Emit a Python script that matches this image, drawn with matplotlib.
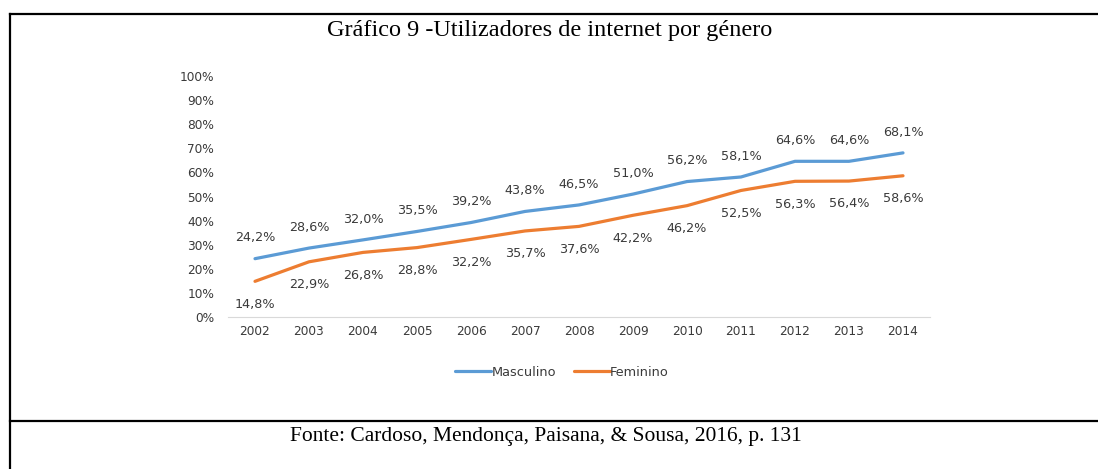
import matplotlib
matplotlib.use("Agg")
import matplotlib.pyplot as plt
from matplotlib.lines import Line2D

# data
years = ["2002", "2003", "2004", "2005", "2006", "2007", "2008",
         "2009", "2010", "2011", "2012", "2013", "2014"]
masculino = [24.2, 28.6, 32.0, 35.5, 39.2, 43.8, 46.5, 51.0, 56.2, 58.1, 64.6, 64.6, 68.1]
feminino = [14.8, 22.9, 26.8, 28.8, 32.2, 35.7, 37.6, 42.2, 46.2, 52.5, 56.3, 56.4, 58.6]
y_ticks = [0, 10, 20, 30, 40, 50, 60, 70, 80, 90, 100]

title = "Gráfico 9 -Utilizadores de internet por género"
source = "Fonte: Cardoso, Mendonça, Paisana, & Sousa, 2016, p. 131"

BLUE = "#5B9BD5"
ORANGE = "#ED7D31"
TXT = "#3A3A3A"
W, H = 1098, 469

fig = plt.figure(figsize=(W / 100, H / 100), dpi=100)
fig.patch.set_facecolor("white")

# frame of the document table
def px(x, y):
    return x / W, 1 - y / H

for (x0, y0), (x1, y1) in [((9.5, 14), (1098, 14)), ((9.5, 14), (9.5, 469)),
                           ((9.5, 421), (1098, 421))]:
    a, b = px(x0, y0)
    c, d = px(x1, y1)
    fig.add_artist(Line2D([a, c], [b, d], color="black", lw=1.6,
                          transform=fig.transFigure))

fig.text(550 / W, 1 - 30 / H, title, ha="center", va="center",
         family="Liberation Serif", fontsize=17.5, color="black")
fig.text(546 / W, 1 - 436 / H, source, ha="center", va="center",
         family="Liberation Serif", fontsize=15.5, color="black")

ax = fig.add_axes([228 / W, 1 - 317 / H, (930 - 228) / W, (317 - 76) / H])
x = list(range(len(years)))
ax.plot(x, masculino, color=BLUE, lw=2.3, solid_capstyle="round", label="Masculino")
ax.plot(x, feminino, color=ORANGE, lw=2.3, solid_capstyle="round", label="Feminino")

for i in x:
    ax.annotate(f"{masculino[i]:.1f}%".replace(".", ","), (i, masculino[i]),
                xytext=(0, 15), textcoords="offset points", ha="center",
                va="center", fontsize=9.2, color=TXT)
    ax.annotate(f"{feminino[i]:.1f}%".replace(".", ","), (i, feminino[i]),
                xytext=(0, -16.5), textcoords="offset points", ha="center",
                va="center", fontsize=9.2, color=TXT)

ax.set_xlim(-0.5, len(years) - 0.5)
ax.set_ylim(0, 100)
ax.set_xticks(x)
ax.set_xticklabels(years)
ax.set_yticks(y_ticks)
ax.set_yticklabels([f"{v}%" for v in y_ticks])
ax.tick_params(length=0, labelsize=8.7, colors=TXT)
ax.tick_params(axis="y", pad=10)
ax.tick_params(axis="x", pad=6)
for s in ["top", "right", "left"]:
    ax.spines[s].set_visible(False)
ax.spines["bottom"].set_color("#D9D9D9")

fig.legend(loc="center", bbox_to_anchor=(562 / W, 1 - 372 / H), ncol=2,
           frameon=False, fontsize=9.3, handlelength=2.8, handletextpad=0.0,
           columnspacing=1.4, labelcolor=TXT)

fig.savefig("out.png", dpi=100, facecolor="white")
